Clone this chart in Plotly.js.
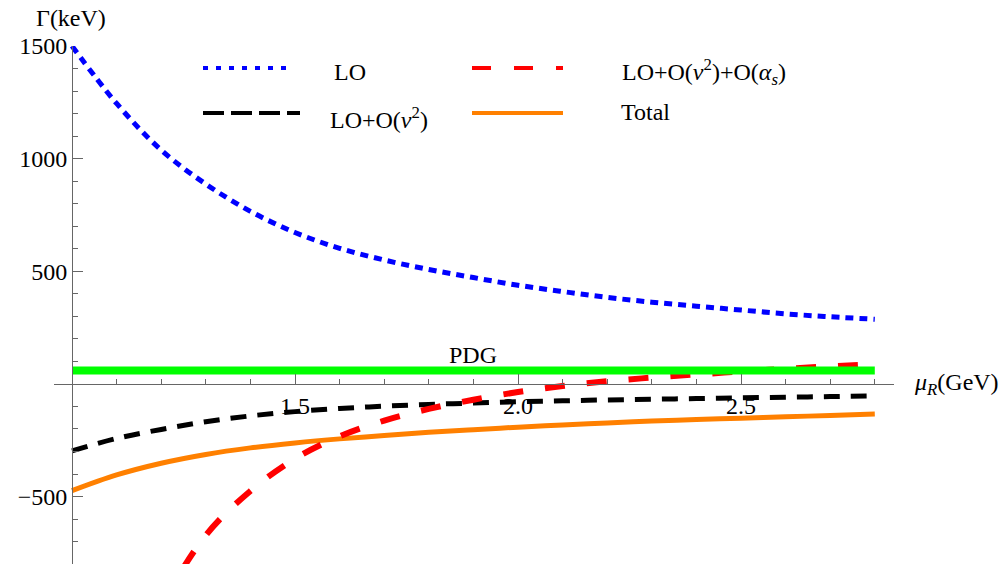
<!DOCTYPE html>
<html><head><meta charset="utf-8">
<script src="https://cdn.plot.ly/plotly-3.0.1.min.js"></script>
<style>body{margin:0;background:#fff}#chart{width:1005px;height:564px}</style>
</head><body><div id="chart"></div>
<script>
// ---- data ----
const mu = [1.0,1.1,1.2,1.3,1.4,1.5,1.6,1.7,1.8,1.9,2.0,2.1,2.2,2.3,2.4,2.5,2.6,2.7,2.8];
const gammaLO = [1500,1245,1038,887,766,672,602,550,508,472,438,410,384,363,345,328,311,298,287];
const gammaLOv2 = [-297,-242,-202,-168,-142,-123,-109,-99,-91,-85,-79,-75,-71,-68,-65,-62,-59,-56,-53];
const muRed = [1.2,1.3,1.4,1.5,1.6,1.7,1.8,1.9,2.0,2.1,2.2,2.3,2.4,2.5,2.6,2.7,2.8];
const gammaLOv2as = [-980,-672,-475,-332,-233,-163,-111,-70,-36,-9,12,28,42,55,67,78,87];
const gammaTotal = [-474,-404,-352,-313,-284,-262,-244,-229,-215,-203,-192,-182,-173,-165,-158,-152,-146,-140,-134];
const pdgMu = [1.0, 2.8];
const gammaPDG = [59, 59];

const xMajor = [1.5, 2.0, 2.5];
const xMajorText = ['1.5', '2.0', '2.5'];
const xMinor = [1.1,1.2,1.3,1.4,1.6,1.7,1.8,1.9,2.1,2.2,2.3,2.4,2.6,2.7,2.8];
const yMajor = [-500, 500, 1000, 1500];
const yMajorText = ['\u2212500', '500', '1000', '1500'];
const yMinor = [-700,-600,-400,-300,-200,-100,100,200,300,400,600,700,800,900,1100,1200,1300,1400];

const names = ['LO', 'LO+O(<i>v</i><sup>2</sup>)', 'LO+O(<i>v</i><sup>2</sup>)+O(<i>α<sub>s</sub></i>)', 'Total'];

// ---- styling ----
const FONT = '"Liberation Serif", "Times New Roman", serif';
const W = 1005, H = 564;
const AX = '#666';
const px = v => v / W;
const py = v => 1 - v / H;

const traces = [
  {x: mu, y: gammaLO, mode: 'lines', name: names[0], line: {color: '#0000ff', width: 5, dash: '8px,6px', shape: 'spline'}},
  {x: mu, y: gammaTotal, mode: 'lines', name: names[3], line: {color: '#ff8000', width: 5, shape: 'spline'}},
  {x: mu, y: gammaLOv2, mode: 'lines', name: names[1], line: {color: '#000000', width: 5, dash: '16px,11px', shape: 'spline'}},
  {x: muRed, y: gammaLOv2as, mode: 'lines', name: names[2], line: {color: '#ff0000', width: 6, dash: '20px,22px', shape: 'spline'}},
  {x: pdgMu, y: gammaPDG, mode: 'lines', name: 'PDG', line: {color: '#00ff00', width: 8}}
];

const legendRows = [
  {x0: 203, x1: 292, y: 68, color: '#0000ff', dash: '5px,8px', width: 4, label: names[0], tx: 332, ty: 72},
  {x0: 472, x1: 563, y: 68, color: '#ff0000', dash: '19px,23px', width: 4, label: names[2], tx: 620, ty: 72},
  {x0: 203, x1: 300, y: 113, color: '#000000', dash: '21px,7px', width: 4, label: names[1], tx: 328, ty: 118},
  {x0: 472, x1: 563, y: 113, color: '#ff8000', dash: 'solid', width: 4, label: names[3], tx: 619, ty: 112}
];

const shapes = legendRows.map(r => ({
  type: 'line', xref: 'paper', yref: 'paper',
  x0: px(r.x0), x1: px(r.x1), y0: py(r.y), y1: py(r.y),
  line: {color: r.color, width: r.width, dash: r.dash}
}));

const annotations = legendRows.map(r => ({
  xref: 'paper', yref: 'paper', x: px(r.tx), y: py(r.ty),
  xanchor: 'left', yanchor: 'middle', showarrow: false, text: r.label,
  font: {family: FONT, size: 24, color: '#000'}
}));
annotations.push(
  {xref: 'paper', yref: 'paper', x: px(71), y: py(18), xanchor: 'center', yanchor: 'middle', showarrow: false,
   text: 'Γ(keV)', font: {family: FONT, size: 24, color: '#000'}},
  {xref: 'paper', yref: 'paper', x: px(912), y: py(384), xanchor: 'left', yanchor: 'middle', showarrow: false,
   text: '<i>μ</i><sub><i>R</i></sub>(GeV)', font: {family: FONT, size: 24, color: '#000'}},
  {xref: 'paper', yref: 'paper', x: px(472.5), y: py(355), xanchor: 'center', yanchor: 'middle', showarrow: false,
   text: 'PDG', font: {family: FONT, size: 24, color: '#000'}}
);

const yMin = -799.4, yMax = 1500;
const yDomTop = (H - 46) / H;
const xPos = (0 - yMin) / (yMax - yMin) * yDomTop;

const layout = {
  width: W, height: H,
  margin: {l: 0, r: 0, t: 0, b: 0, pad: 0},
  paper_bgcolor: '#fff', plot_bgcolor: 'rgba(0,0,0,0)',
  showlegend: false,
  font: {family: FONT, size: 24, color: '#000'},
  xaxis: {
    domain: [54 / W, 894 / W], range: [0.95964, 2.84305],
    anchor: 'free', position: xPos,
    showline: true, linecolor: AX, linewidth: 1, showgrid: false, zeroline: false,
    tickmode: 'array', tickvals: xMajor, ticktext: xMajorText,
    ticks: 'inside', ticklen: 10, tickcolor: AX, tickwidth: 1,
    tickfont: {family: FONT, size: 24, color: '#000'},
    minor: {tickmode: 'array', tickvals: xMinor, ticks: 'inside', ticklen: 5, tickcolor: AX, tickwidth: 1, showgrid: false}
  },
  yaxis: {
    domain: [0, yDomTop], range: [yMin, yMax],
    anchor: 'free', position: 72 / W,
    showline: true, linecolor: AX, linewidth: 1, showgrid: false, zeroline: false,
    tickmode: 'array', tickvals: yMajor, ticktext: yMajorText,
    ticks: 'inside', ticklen: 10, tickcolor: AX, tickwidth: 1,
    tickfont: {family: FONT, size: 24, color: '#000'},
    minor: {tickmode: 'array', tickvals: yMinor, ticks: 'inside', ticklen: 5, tickcolor: AX, tickwidth: 1, showgrid: false}
  },
  shapes: shapes,
  annotations: annotations
};

Plotly.newPlot('chart', traces, layout, {displayModeBar: false});
</script>
</body></html>
